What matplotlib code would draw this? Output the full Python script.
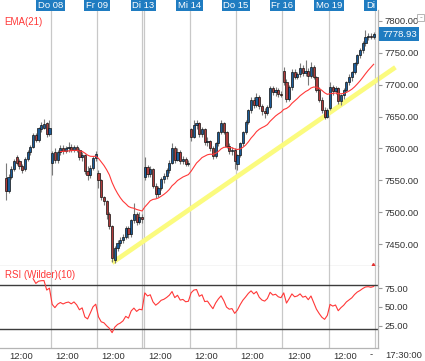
import numpy as np
import matplotlib
matplotlib.use("Agg")
import matplotlib.pyplot as plt
from matplotlib.transforms import blended_transform_factory

plt.rcParams['font.family'] = ['Liberation Sans', 'DejaVu Sans']

# 30-min candles, Mi 07 .. Mo 19 (17 bars per day)
opens = [7553, 7534, 7556, 7568, 7586, 7580, 7573, 7568, 7584, 7594, 7603, 7621, 7614, 7630, 7632, 7640, 7623,
         7577, 7595, 7582, 7594, 7600, 7596, 7600, 7602, 7598, 7603, 7597, 7586, 7590, 7565, 7558, 7570, 7585,
         7562, 7550, 7524, 7518, 7498, 7478, 7426, 7444, 7452, 7456, 7462, 7475, 7466, 7488, 7498, 7485, 7492,
         7555, 7571, 7560, 7568, 7542, 7528, 7538, 7552, 7557, 7566, 7578, 7600, 7582, 7595, 7580, 7583, 7576,
         7630, 7618, 7636, 7640, 7622, 7630, 7610, 7612, 7600, 7588, 7608, 7625, 7640, 7626, 7604, 7596, 7598,
         7576, 7590, 7608, 7626, 7641, 7660, 7676, 7668, 7681, 7666, 7658, 7655, 7665, 7695, 7688, 7692, 7686,
         7722, 7704, 7678, 7696, 7720, 7712, 7716, 7726, 7718, 7722, 7714, 7728, 7712, 7692, 7676, 7660, 7650,
         7664, 7696, 7690, 7694, 7674, 7684, 7692, 7704, 7712, 7720, 7734, 7746, 7754, 7765, 7774, 7776, 7775]
highs = [7577, 7560, 7572, 7584, 7590, 7584, 7576, 7586, 7598, 7606, 7624, 7624, 7634, 7642, 7646, 7642, 7644,
         7596, 7600, 7598, 7605, 7606, 7604, 7610, 7607, 7606, 7606, 7600, 7594, 7592, 7572, 7574, 7588, 7596,
         7566, 7552, 7526, 7520, 7500, 7480, 7448, 7456, 7462, 7466, 7478, 7478, 7490, 7515, 7500, 7500, 7498,
         7586, 7574, 7572, 7570, 7546, 7542, 7555, 7562, 7570, 7582, 7608, 7604, 7600, 7598, 7588, 7586, 7582,
         7632, 7644, 7645, 7642, 7634, 7632, 7618, 7614, 7604, 7610, 7628, 7644, 7642, 7628, 7608, 7602, 7600,
         7592, 7610, 7628, 7644, 7662, 7680, 7680, 7687, 7683, 7670, 7664, 7668, 7698, 7698, 7696, 7694, 7690,
         7728, 7708, 7700, 7724, 7724, 7720, 7733, 7730, 7738, 7726, 7735, 7730, 7714, 7696, 7680, 7665, 7664,
         7704, 7700, 7698, 7696, 7686, 7695, 7706, 7716, 7722, 7736, 7748, 7757, 7768, 7785, 7780, 7780, 7782]
lows = [7519, 7530, 7552, 7564, 7574, 7568, 7562, 7565, 7580, 7590, 7600, 7610, 7610, 7626, 7630, 7618, 7620,
        7558, 7578, 7578, 7590, 7592, 7593, 7595, 7594, 7595, 7594, 7582, 7580, 7560, 7550, 7554, 7566, 7580,
        7538, 7520, 7512, 7490, 7474, 7422, 7421, 7440, 7448, 7452, 7458, 7460, 7462, 7484, 7480, 7482, 7484,
        7550, 7555, 7556, 7538, 7522, 7524, 7535, 7546, 7552, 7562, 7575, 7578, 7580, 7576, 7576, 7572, 7572,
        7612, 7616, 7630, 7618, 7618, 7606, 7604, 7596, 7584, 7585, 7604, 7622, 7622, 7600, 7592, 7590, 7568,
        7566, 7586, 7604, 7622, 7638, 7656, 7664, 7665, 7662, 7652, 7648, 7652, 7662, 7684, 7682, 7680, 7680,
        7700, 7672, 7675, 7692, 7708, 7708, 7712, 7714, 7714, 7700, 7710, 7708, 7688, 7672, 7656, 7646, 7647,
        7660, 7684, 7686, 7670, 7668, 7678, 7688, 7700, 7706, 7716, 7730, 7742, 7750, 7760, 7770, 7772, 7772]
closes = [7534, 7556, 7568, 7580, 7577, 7572, 7566, 7584, 7595, 7603, 7621, 7613, 7632, 7637, 7638, 7622, 7632,
          7593, 7582, 7594, 7600, 7596, 7600, 7602, 7598, 7603, 7597, 7586, 7590, 7565, 7558, 7570, 7585, 7592,
          7550, 7524, 7518, 7498, 7478, 7428, 7444, 7452, 7456, 7462, 7475, 7466, 7488, 7498, 7485, 7492, 7490,
          7571, 7560, 7568, 7542, 7528, 7538, 7552, 7557, 7566, 7578, 7600, 7582, 7595, 7580, 7583, 7576, 7578,
          7618, 7636, 7640, 7622, 7630, 7610, 7612, 7600, 7588, 7608, 7625, 7640, 7626, 7604, 7596, 7598, 7580,
          7590, 7608, 7626, 7641, 7660, 7676, 7668, 7681, 7666, 7658, 7655, 7665, 7695, 7688, 7692, 7686, 7684,
          7704, 7678, 7696, 7720, 7712, 7716, 7726, 7718, 7722, 7714, 7728, 7712, 7692, 7676, 7660, 7650, 7660,
          7696, 7690, 7694, 7674, 7684, 7692, 7704, 7712, 7720, 7734, 7746, 7754, 7765, 7774, 7776, 7775, 7778.93]

day_labels = ["Do 08", "Fr 09", "Di 13", "Mi 14", "Do 15", "Fr 16", "Mo 19", "Di"]
bars_per_day = 17
price_ticks = [7450, 7500, 7550, 7600, 7650, 7700, 7750, 7800]
rsi_ticks = [25, 50, 75]
rsi_bands = [80, 20]
# support line (start at Fr 09 low, runs out past the price scale)
trend_x = [39.5, 143.5]
trend_y = [7421, 7727]


def ema(values, n):
    out = np.full(len(values), np.nan)
    out[n - 1] = np.mean(values[:n])
    k = 2.0 / (n + 1)
    for i in range(n, len(values)):
        out[i] = values[i] * k + out[i - 1] * (1 - k)
    return out


def rsi_wilder(values, n):
    d = np.diff(values)
    up = np.clip(d, 0, None)
    dn = np.clip(-d, 0, None)
    out = np.full(len(values), np.nan)
    au, ad = up[:n].mean(), dn[:n].mean()
    out[n] = 100 - 100 / (1 + au / ad)
    for i in range(n + 1, len(values)):
        au = (au * (n - 1) + up[i - 1]) / n
        ad = (ad * (n - 1) + dn[i - 1]) / n
        out[i] = 100 - 100 / (1 + au / ad)
    return out


o = np.array(opens, float)
h = np.array(highs, float)
l = np.array(lows, float)
c = np.array(closes, float)
x = np.arange(len(c)) + 0.5
day_starts = [bars_per_day * (i + 1) for i in range(len(day_labels))]

W, H = 425, 361
fig = plt.figure(figsize=(W / 100, H / 100), dpi=100)
ax = fig.add_axes([0, 1 - 266 / H, 378 / W, 256 / H])
ax2 = fig.add_axes([0, 1 - 348 / H, 378 / W, 82 / H], sharex=ax)

ax.set_xlim(-1.65, 137.1)
ax.set_ylim(7416, 7816.7)
ax2.set_ylim(-4.8, 104.8)

grid_col = "#c8c8c8"
for a in (ax, ax2):
    for i, d in enumerate(day_starts):
        if day_labels[i] == "Di 13":
            a.axvline(d - 0.4, color=grid_col, lw=0.9, zorder=0)
            a.axvline(d + 0.35, color=grid_col, lw=0.9, zorder=0)
        else:
            a.axvline(d, color=grid_col, lw=0.9, zorder=0)
    for s in ("left", "top"):
        a.spines[s].set_visible(False)
    for s in ("right", "bottom"):
        a.spines[s].set_color("#b4b4b4")
        a.spines[s].set_linewidth(0.9)
    a.yaxis.tick_right()
    a.tick_params(axis="y", length=3, width=0.8, color="#999999", pad=1.5,
                  labelsize=6.8, labelcolor="#333333")

# trend line
ax.plot(trend_x, trend_y, color="#fbfb7e", lw=3.4, solid_capstyle="butt",
        clip_on=False, zorder=1)

# candles
up = c >= o
ax.vlines(x, l, h, color="#7a7a7a", lw=0.8, zorder=2)
body_lo = np.minimum(o, c)
body_h = np.maximum(np.abs(c - o), 0.8)
cols = np.where(up, "#1b5d9b", "#b03c3c")
ax.bar(x, body_h, bottom=body_lo, width=0.8, color=cols, edgecolor="#111111",
       linewidth=0.5, zorder=3)

# EMA(21)
ax.plot(x, ema(c, 21), color="#ff3838", lw=0.8, zorder=4)

ax.set_yticks(price_ticks)
ax.set_yticklabels([f"{v:.2f}" for v in price_ticks])
ax.tick_params(axis="x", bottom=False, labelbottom=False)

ax.text(0.012, 1 - 12 / 256, "EMA(21)", transform=ax.transAxes, color="#ff3838",
        fontsize=7, va="center", ha="left")

# last price box
tr = blended_transform_factory(ax.transAxes, ax.transData)
ax.text(1.0 + 4 / 378, c[-1], f"{c[-1]:.2f}", transform=tr, color="white",
        fontsize=6.8, va="center", ha="left", clip_on=False,
        bbox=dict(boxstyle="square,pad=0.28", fc="#1f7cc1", ec="none"))

# day boxes on top
trx = blended_transform_factory(ax.transData, ax.transAxes)
for i, d in enumerate(day_starts):
    ha = "right" if day_labels[i] == "Di" else "center"
    ax.text(d, 1 + 5 / 256, day_labels[i], transform=trx, color="white",
            fontsize=6.8, ha=ha, va="center", clip_on=False,
            bbox=dict(boxstyle="square,pad=0.18", fc="#1f7cc1", ec="none"))

# current bar marker
ax.plot([day_starts[-1] - 0.6], [7416], marker="^", ms=4, color="#e03030",
        clip_on=False, zorder=6)

# RSI panel
ax2.plot(x, rsi_wilder(c, 10), color="#ff3838", lw=0.8, zorder=3)
for b in rsi_bands:
    ax2.axhline(b, color="#3c3c3c", lw=1.0, zorder=2)
ax2.set_yticks(rsi_ticks)
ax2.set_yticklabels([f"{v:.2f}" for v in rsi_ticks])
ax2.text(0.012, 1 - 9 / 82, "RSI (Wilder)(10)", transform=ax2.transAxes,
         color="#ff3838", fontsize=7, va="center", ha="left")

noon_ticks = [bars_per_day * i + 6 for i in range(len(day_labels))]
ax2.set_xticks(noon_ticks)
ax2.set_xticklabels(["12:00"] * len(noon_ticks))
ax2.tick_params(axis="x", length=0, pad=3, labelsize=6.8, labelcolor="#333333")

fig.text(371 / W, 1 - 355 / H, "-", fontsize=6.8, color="#333333", ha="center", va="center")
fig.text(385 / W, 1 - 355 / H, "17:30:00", fontsize=6.8, color="#333333", ha="left", va="center")

# little minus button top right
fig.patches.append(plt.Rectangle((417 / W, 1 - 21 / H), 7 / W, 7 / H, transform=fig.transFigure,
                                 fc="white", ec="#aaaaaa", lw=0.6))
fig.text(420.5 / W, 1 - 17.5 / H, "-", fontsize=6, color="#888888", ha="center", va="center")

fig.savefig("out.png", dpi=100)
